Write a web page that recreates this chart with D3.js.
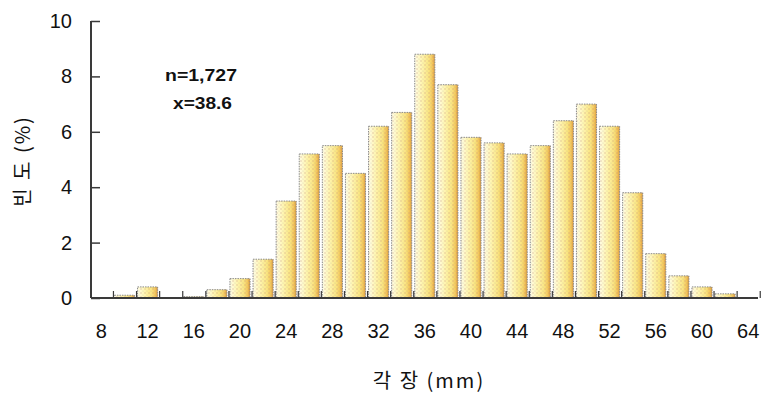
<!DOCTYPE html>
<html>
<head>
<meta charset="utf-8">
<script src="https://cdn.jsdelivr.net/npm/d3@7"></script>
<style>
  html, body { margin: 0; padding: 0; background: #fff; }
  svg { display: block; }
</style>
</head>
<body>
<svg id="chart" width="762" height="396"></svg>
<script>
// ---- data ----
const binCenters = [10, 12, 14, 16, 18, 20, 22, 24, 26, 28, 30, 32, 34, 36, 38, 40, 42, 44, 46, 48, 50, 52, 54, 56, 58, 60, 62, 64];
const frequency  = [0.1, 0.4, 0, 0.05, 0.3, 0.7, 1.4, 3.5, 5.2, 5.5, 4.5, 6.2, 6.7, 8.8, 7.7, 5.8, 5.6, 5.2, 5.5, 6.4, 7.0, 6.2, 3.8, 1.6, 0.8, 0.4, 0.15, 0];
const xTickLabels = [8, 12, 16, 20, 24, 28, 32, 36, 40, 44, 48, 52, 56, 60, 64];
const xMinorTicks = [9, 11, 13, 15, 17, 19, 21, 23, 25, 27, 29, 31, 33, 35, 37, 39, 41, 43, 45, 47, 49, 51, 53, 55, 57, 59, 61, 63, 65];
const yTickValues = [0, 2, 4, 6, 8, 10];
const annotationLines = ["n=1,727", "x=38.6"];
const xTitle = "각 장 (mm)";
const yTitle = "빈 도 (%)";
const binWidth = 2;

// ---- layout ----
const svg = d3.select("#chart");
const x = d3.scaleLinear().domain([7.1, 64.85]).range([91, 758]);
const y = d3.scaleLinear().domain([0, 10]).range([298, 21]);

const defs = svg.append("defs");
const grad = defs.append("linearGradient").attr("id", "barGrad")
  .attr("x1", "0%").attr("x2", "100%").attr("y1", "0%").attr("y2", "0%");
[["0%", "#fffde6"], ["35%", "#fff5b0"], ["70%", "#fae480"], ["88%", "#f3c65c"], ["100%", "#dc9a3a"]]
  .forEach(([o, c]) => grad.append("stop").attr("offset", o).attr("stop-color", c));

const pat = defs.append("pattern").attr("id", "dots")
  .attr("width", 4).attr("height", 4).attr("patternUnits", "userSpaceOnUse");
pat.append("circle").attr("cx", 1).attr("cy", 1).attr("r", 0.8).attr("fill", "rgba(190,140,120,0.45)");
pat.append("circle").attr("cx", 3).attr("cy", 3).attr("r", 0.6).attr("fill", "rgba(150,150,150,0.35)");

// bars
const bw = x(binWidth) - x(0) - 3;
const bars = svg.append("g");
const data = binCenters.map((c, i) => ({ c, v: frequency[i] })).filter(d => d.v > 0);
bars.selectAll("rect.fill").data(data).join("rect")
  .attr("class", "fill")
  .attr("x", d => x(d.c) - bw / 2)
  .attr("y", d => y(d.v))
  .attr("width", bw)
  .attr("height", d => Math.max(1.5, y(0) - y(d.v)))
  .attr("fill", "url(#barGrad)");
bars.selectAll("rect.tex").data(data).join("rect")
  .attr("class", "tex")
  .attr("x", d => x(d.c) - bw / 2)
  .attr("y", d => y(d.v))
  .attr("width", bw)
  .attr("height", d => Math.max(1.5, y(0) - y(d.v)))
  .attr("fill", "url(#dots)")
  .attr("stroke", "#8a8a8a")
  .attr("stroke-width", 1)
  .attr("stroke-dasharray", "1.5,1");

// x axis line + minor ticks (bin boundaries, pointing up)
const axisColor = "#3a3a3a";
const xAxis = svg.append("g").attr("transform", `translate(0,${y(0)})`)
  .call(d3.axisBottom(x).tickValues(xMinorTicks).tickSize(-7).tickFormat(""));
xAxis.select(".domain").attr("d", `M${x.range()[0]},0H${x.range()[1]}`)
  .attr("stroke", axisColor).attr("stroke-width", 2);
xAxis.selectAll(".tick line").attr("stroke", axisColor).attr("stroke-width", 1.2);

// x tick labels
svg.append("g").selectAll("text").data(xTickLabels).join("text")
  .attr("x", d => x(d))
  .attr("y", 338)
  .attr("text-anchor", "middle")
  .attr("font-family", "Liberation Sans, Arial, sans-serif")
  .attr("font-size", 20)
  .attr("fill", "#111")
  .text(d => d);

// y axis (ticks pointing inward)
const yAxis = svg.append("g").attr("transform", `translate(${x.range()[0]},0)`)
  .call(d3.axisLeft(y).tickValues(yTickValues).tickSize(-9).tickPadding(19));
yAxis.select(".domain").attr("d", `M0,${y(10)}V${y(0)}`)
  .attr("stroke", axisColor).attr("stroke-width", 2);
yAxis.selectAll(".tick line").attr("stroke", axisColor).attr("stroke-width", 1.5);
yAxis.selectAll(".tick text")
  .attr("font-family", "Liberation Sans, Arial, sans-serif")
  .attr("font-size", 20)
  .attr("fill", "#111");

// annotation
svg.append("g").selectAll("text").data(annotationLines).join("text")
  .attr("x", (d, i) => i === 0 ? 165 : 173)
  .attr("y", (d, i) => 81 + i * 28)
  .attr("font-family", "Liberation Sans, Arial, sans-serif")
  .attr("font-size", 17)
  .attr("font-weight", "bold")
  .attr("fill", "#111")
  .attr("textLength", (d, i) => i === 0 ? 72 : 59)
  .attr("lengthAdjust", "spacingAndGlyphs")
  .text(d => d);

// axis titles
svg.append("text")
  .attr("x", 429).attr("y", 388)
  .attr("text-anchor", "middle")
  .attr("font-family", "Noto Sans CJK KR, sans-serif")
  .attr("font-size", 20)
  .attr("fill", "#111")
  .attr("letter-spacing", 2)
  .text(xTitle);

svg.append("text")
  .attr("transform", "translate(30,161) rotate(-90)")
  .attr("text-anchor", "middle")
  .attr("font-family", "Noto Sans CJK KR, sans-serif")
  .attr("font-size", 20)
  .attr("fill", "#111")
  .attr("letter-spacing", 2)
  .text(yTitle);
</script>
</body>
</html>
